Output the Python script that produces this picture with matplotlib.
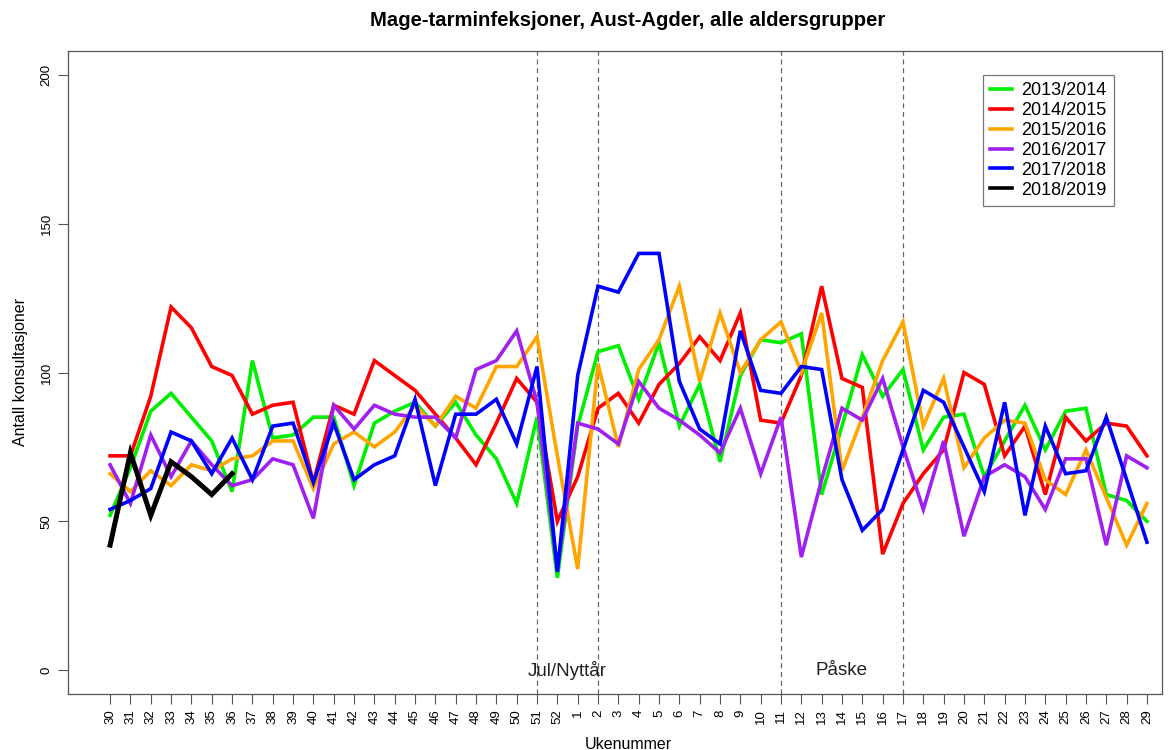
import matplotlib
matplotlib.use("Agg")
import matplotlib.pyplot as plt

plt.rcParams['font.family'] = ['Liberation Sans', 'DejaVu Sans']

weeks = [str(w) for w in list(range(30, 53)) + list(range(1, 30))]

seasons = ["2013/2014", "2014/2015", "2015/2016", "2016/2017", "2017/2018", "2018/2019"]
colors = ["#00EE00", "#FF0000", "#FFA500", "#A020F0", "#0000FF", "#000000"]

s2013 = [52, 68, 87, 93, 85, 77, 60, 104, 78, 79, 85, 85, 62, 83, 87, 90, 82, 90, 79, 71, 56, 85, 31,
         82, 107, 109, 91, 110, 82, 96, 70, 99, 111, 110, 113, 59, 82, 106, 92, 101, 74, 85, 86, 65,
         77, 89, 74, 87, 88, 59, 57, 50]
s2014 = [72, 72, 92, 122, 115, 102, 99, 86, 89, 90, 63, 89, 86, 104, 99, 94, 86, 78, 69, 83, 98, 90, 50,
         65, 88, 93, 83, 96, 103, 112, 104, 120, 84, 83, 99, 129, 98, 95, 39, 56, 66, 74, 100, 96,
         72, 82, 59, 85, 77, 83, 82, 72]
s2015 = [66, 60, 67, 62, 69, 67, 71, 72, 77, 77, 61, 76, 80, 75, 80, 89, 82, 92, 88, 102, 102, 112, 72,
         34, 103, 75, 101, 111, 129, 97, 120, 100, 111, 117, 100, 120, 67, 85, 104, 117, 82, 98, 68, 78,
         84, 83, 64, 59, 74, 58, 42, 56]
s2016 = [69, 56, 79, 65, 77, 69, 62, 64, 71, 69, 51, 89, 81, 89, 86, 85, 85, 78, 101, 104, 114, 90, 34,
         83, 81, 76, 97, 88, 84, 79, 73, 88, 66, 85, 38, 64, 88, 84, 98, 75, 54, 77, 45, 65,
         69, 65, 54, 71, 71, 42, 72, 68]
s2017 = [54, 57, 61, 80, 77, 66, 78, 64, 82, 83, 63, 83, 64, 69, 72, 91, 62, 86, 86, 91, 76, 102, 33,
         99, 129, 127, 140, 140, 97, 81, 76, 114, 94, 93, 102, 101, 64, 47, 54, 74, 94, 90, 75, 60,
         90, 52, 82, 66, 67, 85, 64, 43]
s2018 = [42, 73, 52, 70, 65, 59, 66]

series = [s2013, s2014, s2015, s2016, s2017, s2018]

holiday_lines = ["51", "2", "11", "17"]
holiday_labels = [("Jul/Nyttår", "51", "2"), ("Påske", "11", "17")]

fig = plt.figure(figsize=(11.75, 7.5), dpi=100)
ax = fig.add_axes([68 / 1175, 1 - 694 / 750, (1162 - 68) / 1175, (694 - 51) / 750])

x = list(range(len(weeks)))
for vals, col, lab in zip(series, colors, seasons):
    lw = 3.6 if col == "#000000" else 2.6
    ax.plot(x[:len(vals)], vals, color=col, lw=lw, label=lab,
            solid_joinstyle="miter", zorder=3)

pos = {w: i for i, w in enumerate(weeks)}
for w in holiday_lines:
    ax.axvline(pos[w], color="#666666", lw=0.9, ls=(0, (4, 3)), zorder=1)
for txt, a, b in holiday_labels:
    ax.text((pos[a] + pos[b]) / 2, 0, txt, ha="center", va="center", fontsize=13.5, color="#222222")

ax.set_xlim(-2.07, 51.74)
ax.set_ylim(-8, 208)
ax.set_xticks(x)
ax.set_xticklabels(weeks, rotation=90, fontsize=9.5)
ax.set_yticks([0, 50, 100, 150, 200])
ax.set_yticklabels(["0", "50", "100", "150", "200"], rotation=90, va="center", fontsize=9.5)
ax.tick_params(axis="both", direction="out", length=7, width=0.8, color="#555555")
ax.tick_params(axis="x", pad=4)
ax.tick_params(axis="y", pad=4)
for sp in ax.spines.values():
    sp.set_color("#555555")
    sp.set_linewidth(0.9)

ax.set_xlabel("Ukenummer", fontsize=11.5, labelpad=9)
ax.xaxis.label.set_x((628 - 68) / 1094)
ax.set_ylabel("Antall konsultasjoner", fontsize=11.5, labelpad=9)
fig.text(627.5 / 1175, 1 - 20 / 750, "Mage-tarminfeksjoner, Aust-Agder, alle aldersgrupper",
         ha="center", va="center", fontsize=14.6, fontweight="bold")

leg = ax.legend(loc="upper left", bbox_to_anchor=((983 - 68) / 1094, 1 - (75 - 51) / 643),
                fontsize=13, frameon=True, fancybox=False, handlelength=1.2,
                handletextpad=0.5, borderpad=0.4, labelspacing=0.16, borderaxespad=0)
leg.get_frame().set_edgecolor("#555555")
leg.get_frame().set_linewidth(0.9)
for h in leg.get_lines():
    h.set_linewidth(2.6)

fig.savefig("out.png", dpi=100)
